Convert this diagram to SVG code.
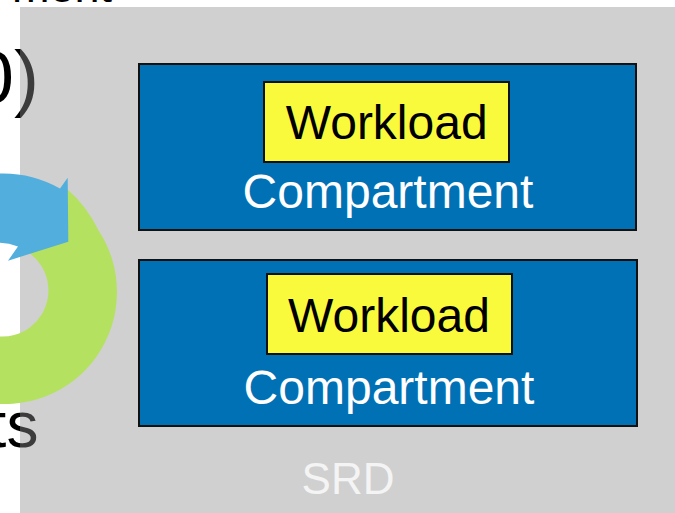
<svg xmlns="http://www.w3.org/2000/svg" width="675" height="513" viewBox="0 0 675 513">
<style>
.bg{fill:#ffffff}
.txt{font-family:"Liberation Sans",Arial,sans-serif;fill:#000}
.overlay{fill:#8e8e8e;fill-opacity:0.42}
.comp{fill:#0071b5;stroke:#111;stroke-width:2}
.work{fill:#fafa3c;stroke:#111;stroke-width:2}
.wtxt{font-family:"Liberation Sans",Arial,sans-serif;font-size:48px;fill:#000;text-anchor:middle}
.ctxt{font-family:"Liberation Sans",Arial,sans-serif;font-size:48px;fill:#fff;text-anchor:middle}
.srd{font-family:"Liberation Sans",Arial,sans-serif;font-size:44px;fill:#f4f4f4;text-anchor:middle}
</style>
<rect class="bg" x="0" y="0" width="675" height="513"/>
<g id="background-text">
<text class="txt" x="112" y="2" font-size="45" text-anchor="end">ment</text>
<text class="txt" x="-27.7" y="103" font-size="75">0)</text>
<text class="txt" x="-11.4" y="446.7" font-size="64">ts</text>
</g>
<rect id="srd-area" class="overlay" x="20" y="7" width="655" height="506"/>
<g id="cycle-arrow">
<path fill="#b5e160" d="M67,189 Q86,205 98.9,231 A112,112 0 0 1 -20,401.2 L-20,330.6 A46,46 0 0 0 28,252.2 L40,210 Z"/>
<path fill="#52aedc" d="M-20,175.7 A119,119 0 0 1 60,188.4 L67.7,177.7 L68.3,241.7 L8,260.7 L18,246.5 A52,52 0 0 0 -20,246.4 Z"/>
</g>
<g id="compartment-1">
<rect class="comp" x="139" y="64" width="497" height="166"/>
<text class="ctxt" x="388" y="208">Compartment</text>
</g>
<g id="workload-1">
<rect class="work" x="264" y="82" width="245" height="80"/>
<text class="wtxt" x="386.7" y="139">Workload</text>
</g>
<g id="compartment-2">
<rect class="comp" x="139" y="260" width="498" height="166"/>
<text class="ctxt" x="389" y="404">Compartment</text>
</g>
<g id="workload-2">
<rect class="work" x="267" y="274" width="245" height="80"/>
<text class="wtxt" x="389" y="331.7">Workload</text>
</g>
<g id="srd-label">
<text class="srd" x="348" y="494">SRD</text>
</g>
<g id="connectors"/>
</svg>
